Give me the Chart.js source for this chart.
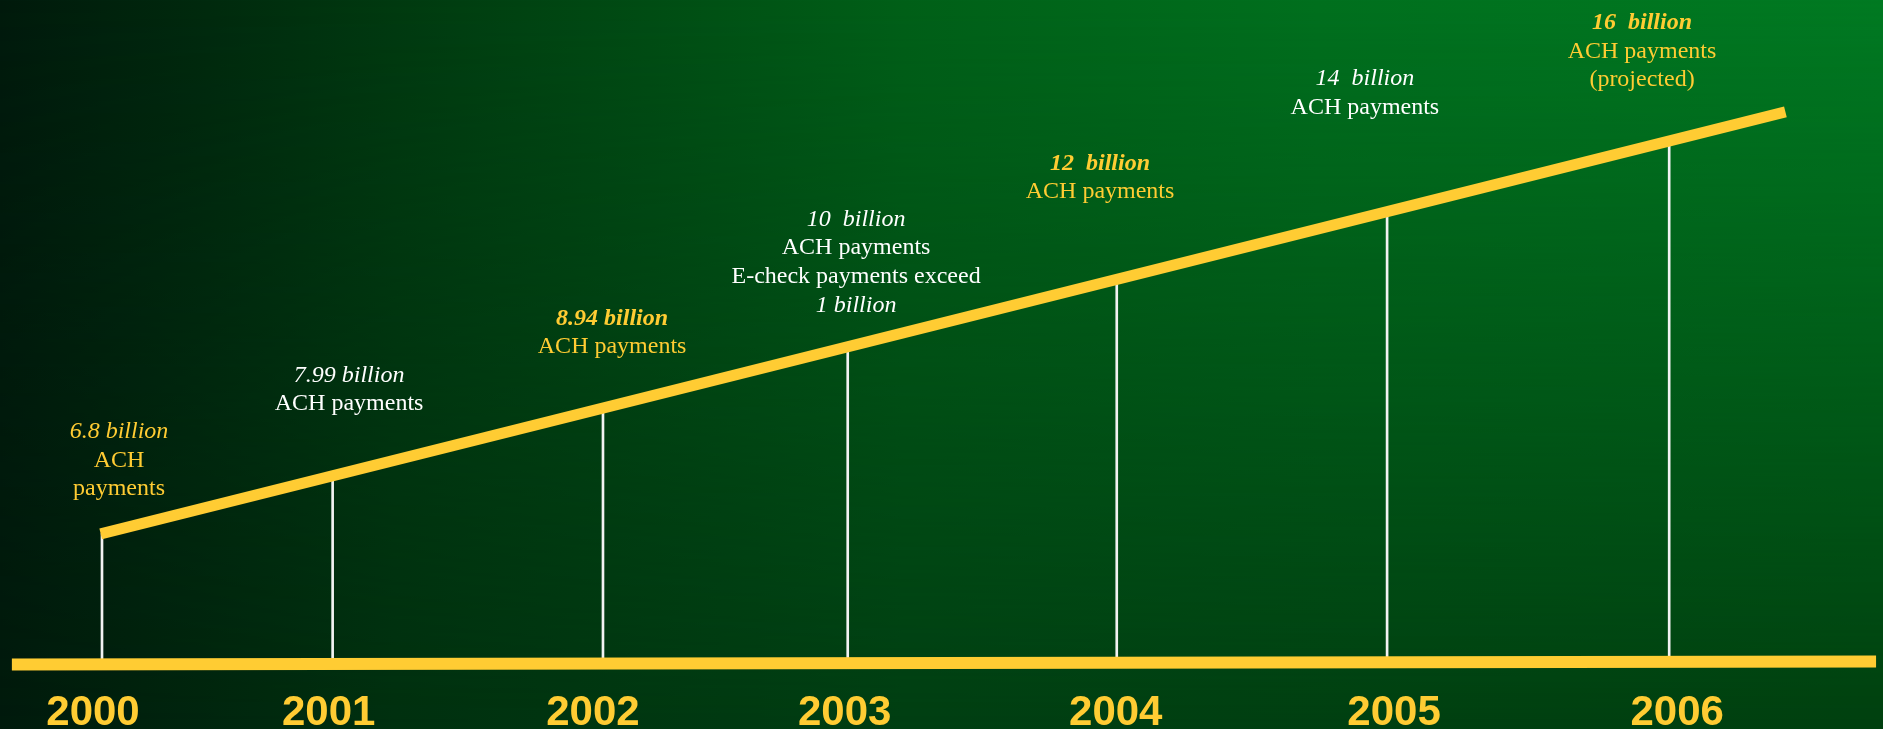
<!DOCTYPE html>
<html>
<head>
<meta charset="utf-8">
<script src="https://cdn.jsdelivr.net/npm/chart.js@4.4.1/dist/chart.umd.min.js"></script>
<style>
html,body{margin:0;padding:0;background:#001a0c;}
#wrap{position:relative;width:1883px;height:729px;overflow:hidden;
  background:linear-gradient(to right,#001a0c 0%,#002a0e 11%,#003a10 21%,#006018 48%,#00701e 70%,#007a22 100%);}
#shade{position:absolute;left:0;top:0;width:100%;height:100%;
  background:linear-gradient(to right,#001a0c 0%,#00300f 21%,#003e12 48%,#00400f 100%);
  -webkit-mask-image:linear-gradient(to bottom,rgba(0,0,0,0) 0%,#000 100%);
  mask-image:linear-gradient(to bottom,rgba(0,0,0,0) 0%,#000 100%);}
canvas{position:absolute;left:0;top:0;}
</style>
</head>
<body>
<div id="wrap"><div id="shade"></div><canvas id="c" width="1883" height="729"></canvas></div>
<script>
// ---- data ----
const years = ['2000', '2001', '2002', '2003', '2004', '2005', '2006'];
// position of each year along the timeline (in years)
const yearPos = [2000.0, 2000.883, 2001.918, 2002.855, 2003.885, 2004.920, 2006.0];
// height of each year's stem (where it meets the trend line), arbitrary units
const stemTop = [13.05, 18.83, 25.6, 31.73, 38.47, 45.24, 52.31];
// trend line end points
const trendX = [1999.995, 2006.445];
const trendY = [13.02, 55.22];
// baseline end points
const baseX = [1999.655, 2006.792];
const baseY = [-0.05, 0.25];
// annotation texts
const noteLines = [
  ['6.8 billion', 'ACH', 'payments'],
  ['7.99 billion', 'ACH payments'],
  ['8.94 billion', 'ACH payments'],
  ['10  billion', 'ACH payments', 'E-check payments exceed', '1 billion'],
  ['12  billion', 'ACH payments'],
  ['14  billion', 'ACH payments'],
  ['16  billion', 'ACH payments', '(projected)']
];

// ---- styles / layout ----
const YELLOW = '#FFCC33';
const WHITE = '#FFFFFF';
const noteLayout = {
  anchors: [[2000.065, 22.6], [2000.946, 28.23], [2001.953, 33.94], [2002.887, 43.83],
            [2003.821, 49.44], [2004.835, 57.9], [2005.896, 63.5]],
  colors: [YELLOW, WHITE, YELLOW, WHITE, YELLOW, WHITE, YELLOW],
  fonts: [
    ['italic', 'normal', 'normal'],
    ['italic', 'normal'],
    ['italic bold', 'normal'],
    ['italic', 'normal', 'normal', 'italic'],
    ['italic bold', 'normal'],
    ['italic', 'normal'],
    ['italic bold', 'normal', 'normal']
  ],
  lineGap: 28.7,
  yearShift: [-9, -4, -10, -3, -1, 7, 8],
  yearBaseline: -6.1
};

const notesPlugin = {
  id: 'notes',
  afterDatasetsDraw(chart) {
    const ctx = chart.ctx;
    const xs = chart.scales.x, ys = chart.scales.y;
    const L = noteLayout;
    ctx.save();
    ctx.textAlign = 'center';
    ctx.textBaseline = 'alphabetic';
    noteLines.forEach((lines, i) => {
      const cx = xs.getPixelForValue(L.anchors[i][0]);
      const by = ys.getPixelForValue(L.anchors[i][1]);
      ctx.fillStyle = L.colors[i];
      lines.forEach((t, j) => {
        ctx.font = L.fonts[i][j] + ' 24px "Liberation Serif", "Times New Roman", serif';
        ctx.fillText(t, cx, by + j * L.lineGap);
      });
    });
    ctx.font = 'bold 42px "Liberation Sans", Arial, sans-serif';
    ctx.fillStyle = YELLOW;
    const yb = ys.getPixelForValue(L.yearBaseline);
    years.forEach((t, i) => {
      ctx.fillText(t, xs.getPixelForValue(yearPos[i]) + L.yearShift[i], yb);
    });
    ctx.restore();
  }
};

new Chart(document.getElementById('c'), {
  type: 'bar',
  data: {
    datasets: [
      {
        type: 'line',
        data: trendX.map((v, i) => ({ x: v, y: trendY[i] })),
        borderColor: YELLOW, borderWidth: 11, borderCapStyle: 'butt',
        pointRadius: 0, tension: 0, fill: false, clip: false, order: 1
      },
      {
        type: 'line',
        data: baseX.map((v, i) => ({ x: v, y: baseY[i] })),
        borderColor: YELLOW, borderWidth: 12, borderCapStyle: 'butt',
        pointRadius: 0, tension: 0, fill: false, clip: false, order: 2
      },
      {
        type: 'bar',
        data: yearPos.map((v, i) => ({ x: v, y: [0, stemTop[i]] })),
        backgroundColor: '#f2f2f2', borderWidth: 0, barThickness: 2,
        grouped: false, clip: false, order: 3
      }
    ]
  },
  options: {
    responsive: false,
    animation: false,
    events: [],
    layout: { padding: 0 },
    plugins: { legend: { display: false }, tooltip: { enabled: false } },
    scales: {
      x: { type: 'linear', min: 1999.6095, max: 2006.8186, offset: false, display: false },
      y: { type: 'linear', min: -6.5, max: 66.4, display: false }
    }
  },
  plugins: [notesPlugin]
});
</script>
</body>
</html>
